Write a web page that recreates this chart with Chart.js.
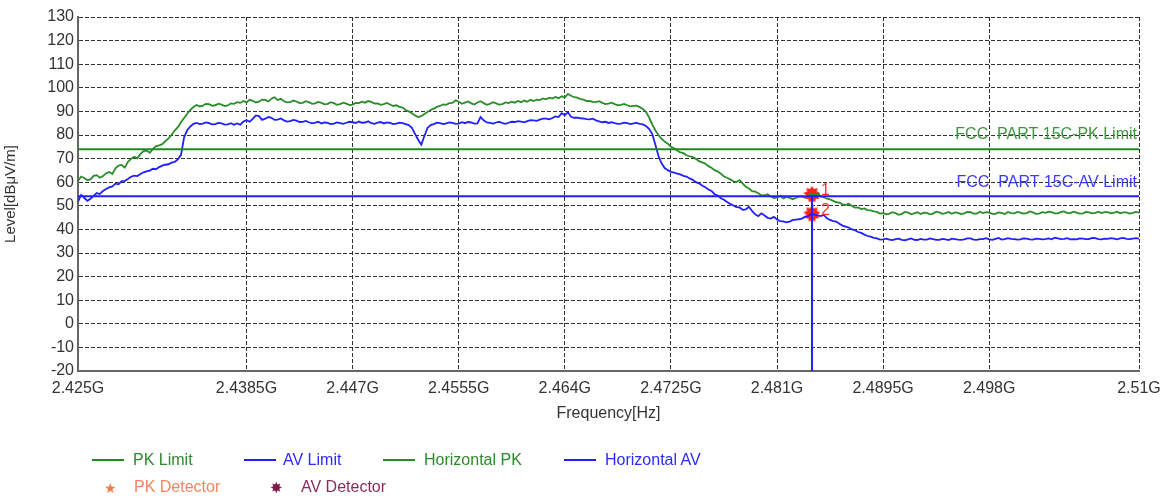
<!DOCTYPE html>
<html>
<head>
<meta charset="utf-8">
<script src="https://cdn.jsdelivr.net/npm/chart.js@4.4.1/dist/chart.umd.min.js"></script>
<style>
  html, body { margin: 0; padding: 0; background: #fff; }
  #wrap { position: relative; width: 1173px; height: 499px; font-family: "Liberation Sans", Arial, sans-serif; }
  #plot { position: absolute; left: 0; top: 0; }
  .lg { position: absolute; font-size: 16px; line-height: 18px; white-space: nowrap; }
  .lg-line { position: absolute; height: 2px; width: 32px; }
</style>
</head>
<body>
<div id="wrap">
  <canvas id="plot" width="1173" height="499"></canvas>

  <div class="lg-line" style="left:92px; top:459px; background:#1e8a1e;"></div>
  <div class="lg" style="left:133px; top:451px; color:#2a8c2a;">PK Limit</div>
  <div class="lg-line" style="left:244px; top:459px; background:#2020ff;"></div>
  <div class="lg" style="left:283px; top:451px; color:#2b2bff;">AV Limit</div>
  <div class="lg-line" style="left:383px; top:459px; background:#2a8c2a;"></div>
  <div class="lg" style="left:424px; top:451px; color:#2a8c2a;">Horizontal PK</div>
  <div class="lg-line" style="left:564px; top:459px; background:#2020ff;"></div>
  <div class="lg" style="left:605px; top:451px; color:#2b2bff;">Horizontal AV</div>

  <div class="lg" style="left:104px; top:479px; color:#f47c4a; font-size:14px;">&#9733;</div>
  <div class="lg" style="left:134px; top:478px; color:#f4845f;">PK Detector</div>
  <div class="lg" style="left:270px; top:479px; color:#7d1a48; font-size:15px;">&#10040;</div>
  <div class="lg" style="left:301px; top:478px; color:#8b2a5a;">AV Detector</div>
</div>

<script>
// ── Scan data ─────────────────────────────────────────────────────────────────

// Sweep 2.425 GHz .. 2.51 GHz, one reading every 0.25 MHz (341 points)
var sweepStartGHz = 2.425;
var sweepStepGHz  = 0.00025;

var freqTickValues = [2.425, 2.4385, 2.447, 2.4555, 2.464, 2.4725, 2.481, 2.4895, 2.498, 2.51];
var freqTickLabels = ['2.425G', '2.4385G', '2.447G', '2.4555G', '2.464G', '2.4725G', '2.481G', '2.4895G', '2.498G', '2.51G'];

var pkLimit = 74;   // dBµV/m
var avLimit = 54;

var horizontalPK = [
    60.5, 62.4, 61.8, 60.9, 61.2, 62.7, 63.0, 61.9, 62.6, 63.8,
    64.3, 63.5, 65.9, 67.0, 67.3, 66.2, 68.6, 69.9, 70.8, 70.1,
    71.9, 73.2, 73.4, 72.5, 74.1, 75.3, 75.6, 76.1, 77.4, 78.6,
    80.1, 81.9, 83.3, 85.4, 87.2, 89.0, 90.6, 91.9, 92.7, 92.1,
    92.4, 93.2, 93.1, 92.4, 92.6, 93.3, 92.9, 92.3, 92.5, 93.4,
    93.2, 93.9, 93.6, 94.4, 93.8, 94.9, 94.5, 93.8, 94.1, 95.0,
    94.9, 94.2, 95.4, 96.0, 94.8, 95.3, 94.3, 93.8, 93.9, 94.6,
    94.2, 93.5, 93.6, 94.3, 93.9, 93.2, 93.4, 94.0, 93.6, 93.0,
    93.2, 93.9, 93.5, 92.8, 93.1, 93.7, 93.3, 92.7, 92.9, 93.6,
    93.5, 94.1, 93.7, 94.4, 94.0, 93.3, 93.4, 92.8, 93.1, 93.6,
    92.9, 92.3, 92.6, 91.9, 91.6, 90.6, 90.0, 89.2, 88.3, 87.6,
    88.0, 88.9, 89.7, 90.6, 91.2, 91.9, 92.3, 93.0, 92.8, 93.5,
    93.6, 94.7, 94.1, 93.2, 93.7, 94.2, 93.4, 92.9, 93.8, 94.3,
    93.5, 92.8, 93.2, 93.9, 93.4, 92.9, 93.1, 93.8, 93.5, 94.1,
    93.7, 94.4, 93.9, 94.6, 94.1, 94.9, 94.4, 95.0, 94.8, 95.5,
    95.1, 95.8, 95.4, 96.1, 95.6, 96.4, 95.9, 97.4, 96.6, 96.0,
    95.8, 95.2, 95.0, 94.4, 94.4, 94.0, 93.9, 94.3, 93.6, 93.1,
    93.3, 93.7, 93.1, 92.6, 92.8, 93.2, 92.6, 92.1, 92.3, 92.4,
    91.8, 91.0, 89.8, 87.5, 84.5, 82.0, 80.0, 78.4, 77.2, 76.3,
    75.0, 74.4, 73.4, 72.6, 72.3, 71.4, 71.0, 70.6, 69.9, 68.9,
    68.4, 67.9, 66.8, 66.1, 65.1, 64.5, 63.6, 62.4, 61.9, 61.2,
    60.4, 60.1, 60.9, 59.4, 58.1, 57.3, 56.2, 56.0, 55.3, 54.5,
    54.4, 54.9, 53.9, 53.3, 53.6, 54.2, 53.1, 53.8, 53.4, 52.8,
    53.3, 54.0, 53.9, 53.5, 54.4, 55.1, 54.8, 55.3, 54.0, 53.6,
    53.0, 52.7, 52.1, 51.5, 51.3, 50.6, 50.4, 50.9, 49.9, 49.2,
    49.3, 48.6, 48.9, 48.2, 48.1, 47.6, 47.4, 46.7, 46.9, 46.4,
    46.7, 47.3, 46.9, 46.2, 46.6, 47.4, 47.1, 46.5, 46.8, 47.3,
    46.5, 47.1, 47.0, 46.4, 46.7, 47.5, 47.2, 46.6, 46.9, 47.4,
    46.6, 47.2, 47.0, 46.5, 46.8, 47.4, 47.3, 46.7, 46.7, 47.5,
    46.9, 47.3, 47.1, 46.6, 46.6, 47.2, 47.0, 46.5, 47.4, 46.9,
    46.8, 47.4, 47.1, 46.7, 46.9, 47.6, 47.2, 46.6, 46.7, 47.3,
    47.0, 47.5, 47.3, 46.8, 46.8, 47.4, 47.6, 46.9, 46.9, 47.5,
    47.1, 46.7, 46.8, 47.4, 47.2, 46.8, 47.0, 47.5, 46.9, 47.3,
    47.3, 46.8, 47.1, 47.5, 46.8, 47.2, 47.2, 46.7, 47.0, 47.4,
    47.1
];

var horizontalAV = [
    51.8, 54.6, 53.4, 52.1, 53.0, 54.2, 55.4, 55.0, 56.3, 57.1,
    57.8, 58.2, 59.4, 59.1, 60.5, 60.6, 61.4, 62.3, 62.8, 62.6,
    63.5, 64.2, 64.6, 64.9, 65.7, 65.5, 66.4, 67.0, 67.4, 67.6,
    68.3, 68.6, 69.7, 71.5, 79.0, 82.0, 83.6, 84.7, 85.1, 84.6,
    84.8, 85.3, 85.0, 84.5, 84.6, 85.1, 84.9, 84.4, 84.5, 85.0,
    84.3, 84.9, 84.4, 85.7, 86.3, 85.6, 86.8, 88.3, 88.0, 86.4,
    86.9, 87.6, 87.3, 86.4, 86.5, 87.0, 86.2, 85.7, 85.9, 86.4,
    86.1, 85.5, 85.6, 86.0, 85.4, 84.9, 85.2, 85.6, 84.9, 85.3,
    85.1, 84.6, 84.8, 85.3, 85.0, 84.7, 85.2, 85.6, 85.4, 85.1,
    85.7, 85.2, 85.3, 85.8, 85.0, 84.7, 85.2, 85.5, 84.9, 85.3,
    85.1, 84.6, 84.8, 85.2, 85.0, 84.6, 84.2, 83.0, 80.5, 78.0,
    75.9, 79.6, 83.0, 84.2, 84.6, 85.2, 85.0, 84.6, 84.9, 85.3,
    85.1, 84.7, 84.8, 85.4, 85.0, 85.5, 85.3, 84.8, 84.9, 87.6,
    86.2, 85.3, 85.1, 84.8, 85.3, 85.6, 85.0, 84.7, 85.2, 85.6,
    85.5, 85.9, 85.7, 85.4, 85.9, 86.3, 86.2, 86.0, 86.5, 86.9,
    86.9, 86.6, 87.2, 87.9, 87.6, 89.2, 88.4, 89.6, 87.7, 87.3,
    87.4, 87.1, 87.0, 86.7, 86.6, 86.9, 86.2, 85.8, 85.4, 85.6,
    85.1, 85.4, 85.0, 84.7, 84.8, 85.2, 85.0, 84.6, 84.9, 85.1,
    84.7, 84.5, 83.8, 82.6, 80.5, 76.0, 71.2, 68.0, 66.0, 65.1,
    64.4, 64.1, 63.6, 63.3, 62.7, 62.4, 61.6, 61.0, 60.0, 59.5,
    58.6, 57.9, 56.9, 56.3, 54.9, 54.4, 53.2, 52.6, 51.6, 50.8,
    50.1, 49.4, 49.3, 48.3, 48.5, 49.6, 47.8, 46.4, 45.6, 46.8,
    45.9, 44.9, 44.6, 45.3, 44.2, 43.5, 43.4, 43.0, 43.3, 43.9,
    44.1, 44.3, 44.6, 45.4, 45.5, 46.6, 46.3, 45.9, 45.6, 46.1,
    44.7, 44.0, 43.5, 43.3, 42.4, 41.6, 41.2, 40.8, 40.0, 39.7,
    38.9, 38.5, 37.8, 37.2, 36.9, 36.4, 36.2, 35.7, 35.8, 36.1,
    35.7, 35.5, 35.9, 36.1, 35.6, 35.4, 35.8, 36.2, 35.6, 35.5,
    36.0, 35.7, 35.7, 36.2, 35.9, 35.6, 35.6, 36.0, 35.8, 35.5,
    36.1, 35.9, 35.7, 35.6, 35.8, 36.2, 36.2, 35.7, 35.6, 35.9,
    35.9, 36.3, 35.8, 35.6, 36.0, 36.4, 35.7, 35.9, 36.3, 36.0,
    35.9, 35.7, 35.8, 36.2, 36.1, 35.8, 35.7, 36.1, 36.0, 35.8,
    35.9, 36.2, 35.8, 36.5, 36.2, 35.9, 36.0, 36.3, 35.8, 35.9,
    35.8, 36.2, 36.1, 35.9, 35.9, 36.4, 36.3, 35.9, 35.8, 36.1,
    36.0, 36.3, 36.1, 35.8, 36.2, 36.4, 36.0, 35.9, 36.1, 36.3,
    36.1
];

// Detector markers: 1 = PK, 2 = AV
var markerFreqGHz = 2.4838;
var markerPK = 54.8;
var markerAV = 46.6;

// ── Helpers ───────────────────────────────────────────────────────────────────

var FONT = '"Liberation Sans", Arial, sans-serif';
var GREEN = '#2a8c2a';
var BLUE  = '#2020ff';

function sweepPoints(levels) {
    return levels.map(function (v, i) {
        return { x: +(sweepStartGHz + i * sweepStepGHz).toFixed(5), y: v };
    });
}

function flatLine(level) {
    return [{ x: 2.425, y: level }, { x: 2.51, y: level }];
}

// Filled red burst used for the detector points
function burstIcon(size, color) {
    var cv = document.createElement('canvas');
    cv.width = cv.height = size;
    var c = cv.getContext('2d');
    var r = size / 2, rIn = r * 0.68, spikes = 9;
    c.fillStyle = color;
    c.beginPath();
    for (var k = 0; k < spikes * 2; k++) {
        var a = Math.PI * k / spikes - Math.PI / 2;
        var rr = k % 2 ? rIn : r;
        c.lineTo(r + Math.cos(a) * rr, r + Math.sin(a) * rr);
    }
    c.closePath();
    c.fill();
    return cv;
}

// Limit captions + marker numbers
var annotate = {
    id: 'annotate',
    beforeDatasetsDraw: function (chart) {
        var c = chart.ctx, area = chart.chartArea, y = chart.scales.y;
        c.save();
        c.font = '16px ' + FONT;
        c.textAlign = 'right';
        c.textBaseline = 'middle';
        c.fillStyle = '#3c963c';
        c.fillText('FCC  PART 15C-PK Limit', area.right - 2, y.getPixelForValue(80));
        c.fillStyle = '#3a3aff';
        c.fillText('FCC  PART 15C-AV Limit', area.right - 2, y.getPixelForValue(60));
        c.restore();
    },
    afterDatasetsDraw: function (chart) {
        var c = chart.ctx;
        var pts = chart.getDatasetMeta(5).data;
        c.save();
        c.font = '16px ' + FONT;
        c.fillStyle = '#ff3030';
        c.textBaseline = 'middle';
        if (pts[0]) c.fillText('1', pts[0].x + 9, pts[0].y - 4);
        if (pts[1]) c.fillText('2', pts[1].x + 9, pts[1].y - 3);
        c.restore();
    }
};

// ── Chart ─────────────────────────────────────────────────────────────────────

var burst = burstIcon(17, '#ff2020');

new Chart(document.getElementById('plot').getContext('2d'), {
    type: 'line',
    data: {
        datasets: [
            { label: 'PK Limit', data: flatLine(pkLimit), borderColor: '#1e8a1e', borderWidth: 2 },
            { label: 'AV Limit', data: flatLine(avLimit), borderColor: BLUE, borderWidth: 2 },
            { label: 'Horizontal PK', data: sweepPoints(horizontalPK), borderColor: GREEN, borderWidth: 1.8 },
            { label: 'Horizontal AV', data: sweepPoints(horizontalAV), borderColor: BLUE, borderWidth: 1.8 },
            {
                label: 'marker line',
                data: [{ x: markerFreqGHz, y: avLimit }, { x: markerFreqGHz, y: -20 }],
                borderColor: BLUE, borderWidth: 2
            },
            {
                label: 'Detectors',
                data: [{ x: markerFreqGHz, y: markerPK }, { x: markerFreqGHz, y: markerAV }],
                showLine: false,
                pointStyle: burst,
                pointRadius: 8
            }
        ]
    },
    options: {
        responsive: false,
        animation: false,
        elements: { point: { radius: 0 }, line: { tension: 0, fill: false } },
        layout: { padding: { left: 0, right: 34, top: 17, bottom: 69 } },
        plugins: { legend: { display: false }, tooltip: { enabled: false } },
        scales: {
            x: {
                type: 'linear',
                min: 2.425,
                max: 2.51,
                afterBuildTicks: function (s) {
                    s.ticks = freqTickValues.map(function (v) { return { value: v }; });
                },
                afterFit: function (s) { s.height = 59; },
                ticks: {
                    autoSkip: false,
                    maxRotation: 0,
                    padding: 8,
                    color: '#333',
                    font: { family: FONT, size: 16 },
                    callback: function (v, i) { return freqTickLabels[i]; }
                },
                grid: { color: '#333', drawTicks: false, lineWidth: 1 },
                border: { color: '#666', width: 2, dash: [4, 2] },
                title: {
                    display: true,
                    text: 'Frequency[Hz]',
                    color: '#333',
                    font: { family: FONT, size: 16 },
                    padding: { top: 0, bottom: 7 }
                }
            },
            y: {
                min: -20,
                max: 130,
                afterFit: function (s) { s.width = 78; },
                ticks: {
                    stepSize: 10,
                    padding: 4,
                    color: '#333',
                    font: { family: FONT, size: 16 }
                },
                grid: { color: '#333', drawTicks: false, lineWidth: 1 },
                border: { color: '#666', width: 2, dash: [4, 2] },
                title: {
                    display: true,
                    text: 'Level[dBμV/m]',
                    color: '#333',
                    font: { family: FONT, size: 15 },
                    padding: { top: 2, bottom: 2 }
                }
            }
        }
    },
    plugins: [annotate]
});
</script>
</body>
</html>
